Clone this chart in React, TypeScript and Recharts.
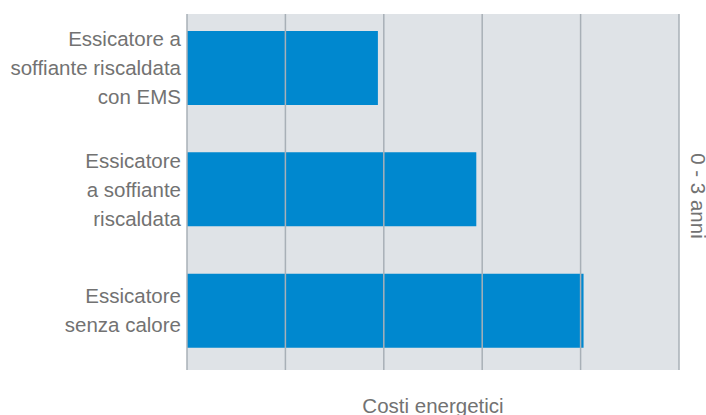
import React from "react";
import { BarChart, Bar, XAxis, YAxis, CartesianGrid, Label, ReferenceLine } from "recharts";

const categories = [
  "Essicatore a soffiante riscaldata con EMS",
  "Essicatore a soffiante riscaldata",
  "Essicatore senza calore",
];
const categoryLines = [
  ["Essicatore a", "soffiante riscaldata", "con EMS"],
  ["Essicatore", "a soffiante", "riscaldata"],
  ["Essicatore", "senza calore"],
];
const energyCosts = [1.94, 2.94, 4.03];
const xTicks = [0, 1, 2, 3, 4, 5];
const xAxisTitle = "Costi energetici";
const rightTitle = "0 - 3 anni";

const data = categories.map((name, i) => ({ name, value: energyCosts[i] }));

const FONT = "'Liberation Sans', Arial, Helvetica, sans-serif";
const TEXT = "#727272";

const CategoryTick = (props: any) => {
  const { x, y, payload } = props;
  const idx = categories.indexOf(payload.value);
  const lines = categoryLines[idx] || [String(payload.value)];
  const spacing = 29;
  const n = lines.length;
  return (
    <g>
      {lines.map((l, i) => (
        <text
          key={i}
          x={x + 2}
          y={y + 7.5 + (i - (n - 1) / 2) * spacing}
          textAnchor="end"
          fill={TEXT}
          fontSize={20.5}
          fontFamily={FONT}
        >
          {l}
        </text>
      ))}
    </g>
  );
};

export default function App() {
  return (
    <div style={{ position: "absolute", left: 0, top: 0 }}>
      <BarChart
        width={706}
        height={415}
        data={data}
        layout="vertical"
        margin={{ top: 14, right: 0, bottom: 0, left: 0 }}
      >
        <CartesianGrid horizontal={false} vertical={false} fill="#DFE3E7" stroke="none" />
        <XAxis
          type="number"
          domain={[0, 5]}
          ticks={xTicks}
          tick={false}
          axisLine={false}
          tickLine={false}
          height={45}
        >
          <Label
            value={xAxisTitle}
            position="insideBottom"
            offset={2}
            fill={TEXT}
            fontSize={20.5}
            fontFamily={FONT}
          />
        </XAxis>
        <YAxis
          type="category"
          dataKey="name"
          width={187}
          axisLine={false}
          tickLine={false}
          tick={<CategoryTick />}
          padding={{ top: -7, bottom: -1 }}
        />
        <YAxis
          yAxisId="right"
          orientation="right"
          type="category"
          dataKey="name"
          width={27}
          axisLine={false}
          tickLine={false}
          tick={false}
        >
          <Label
            value={rightTitle}
            angle={90}
            position="center"
            dx={6}
            dy={4}
            fill={TEXT}
            fontSize={20.5}
            fontFamily={FONT}
          />
        </YAxis>
        <Bar dataKey="value" fill="#0088CF" barSize={74} isAnimationActive={false} />
        {xTicks.map((t) => (
          <ReferenceLine key={t} x={t} stroke="#A8B0B7" strokeWidth={1.5} />
        ))}
      </BarChart>
    </div>
  );
}
